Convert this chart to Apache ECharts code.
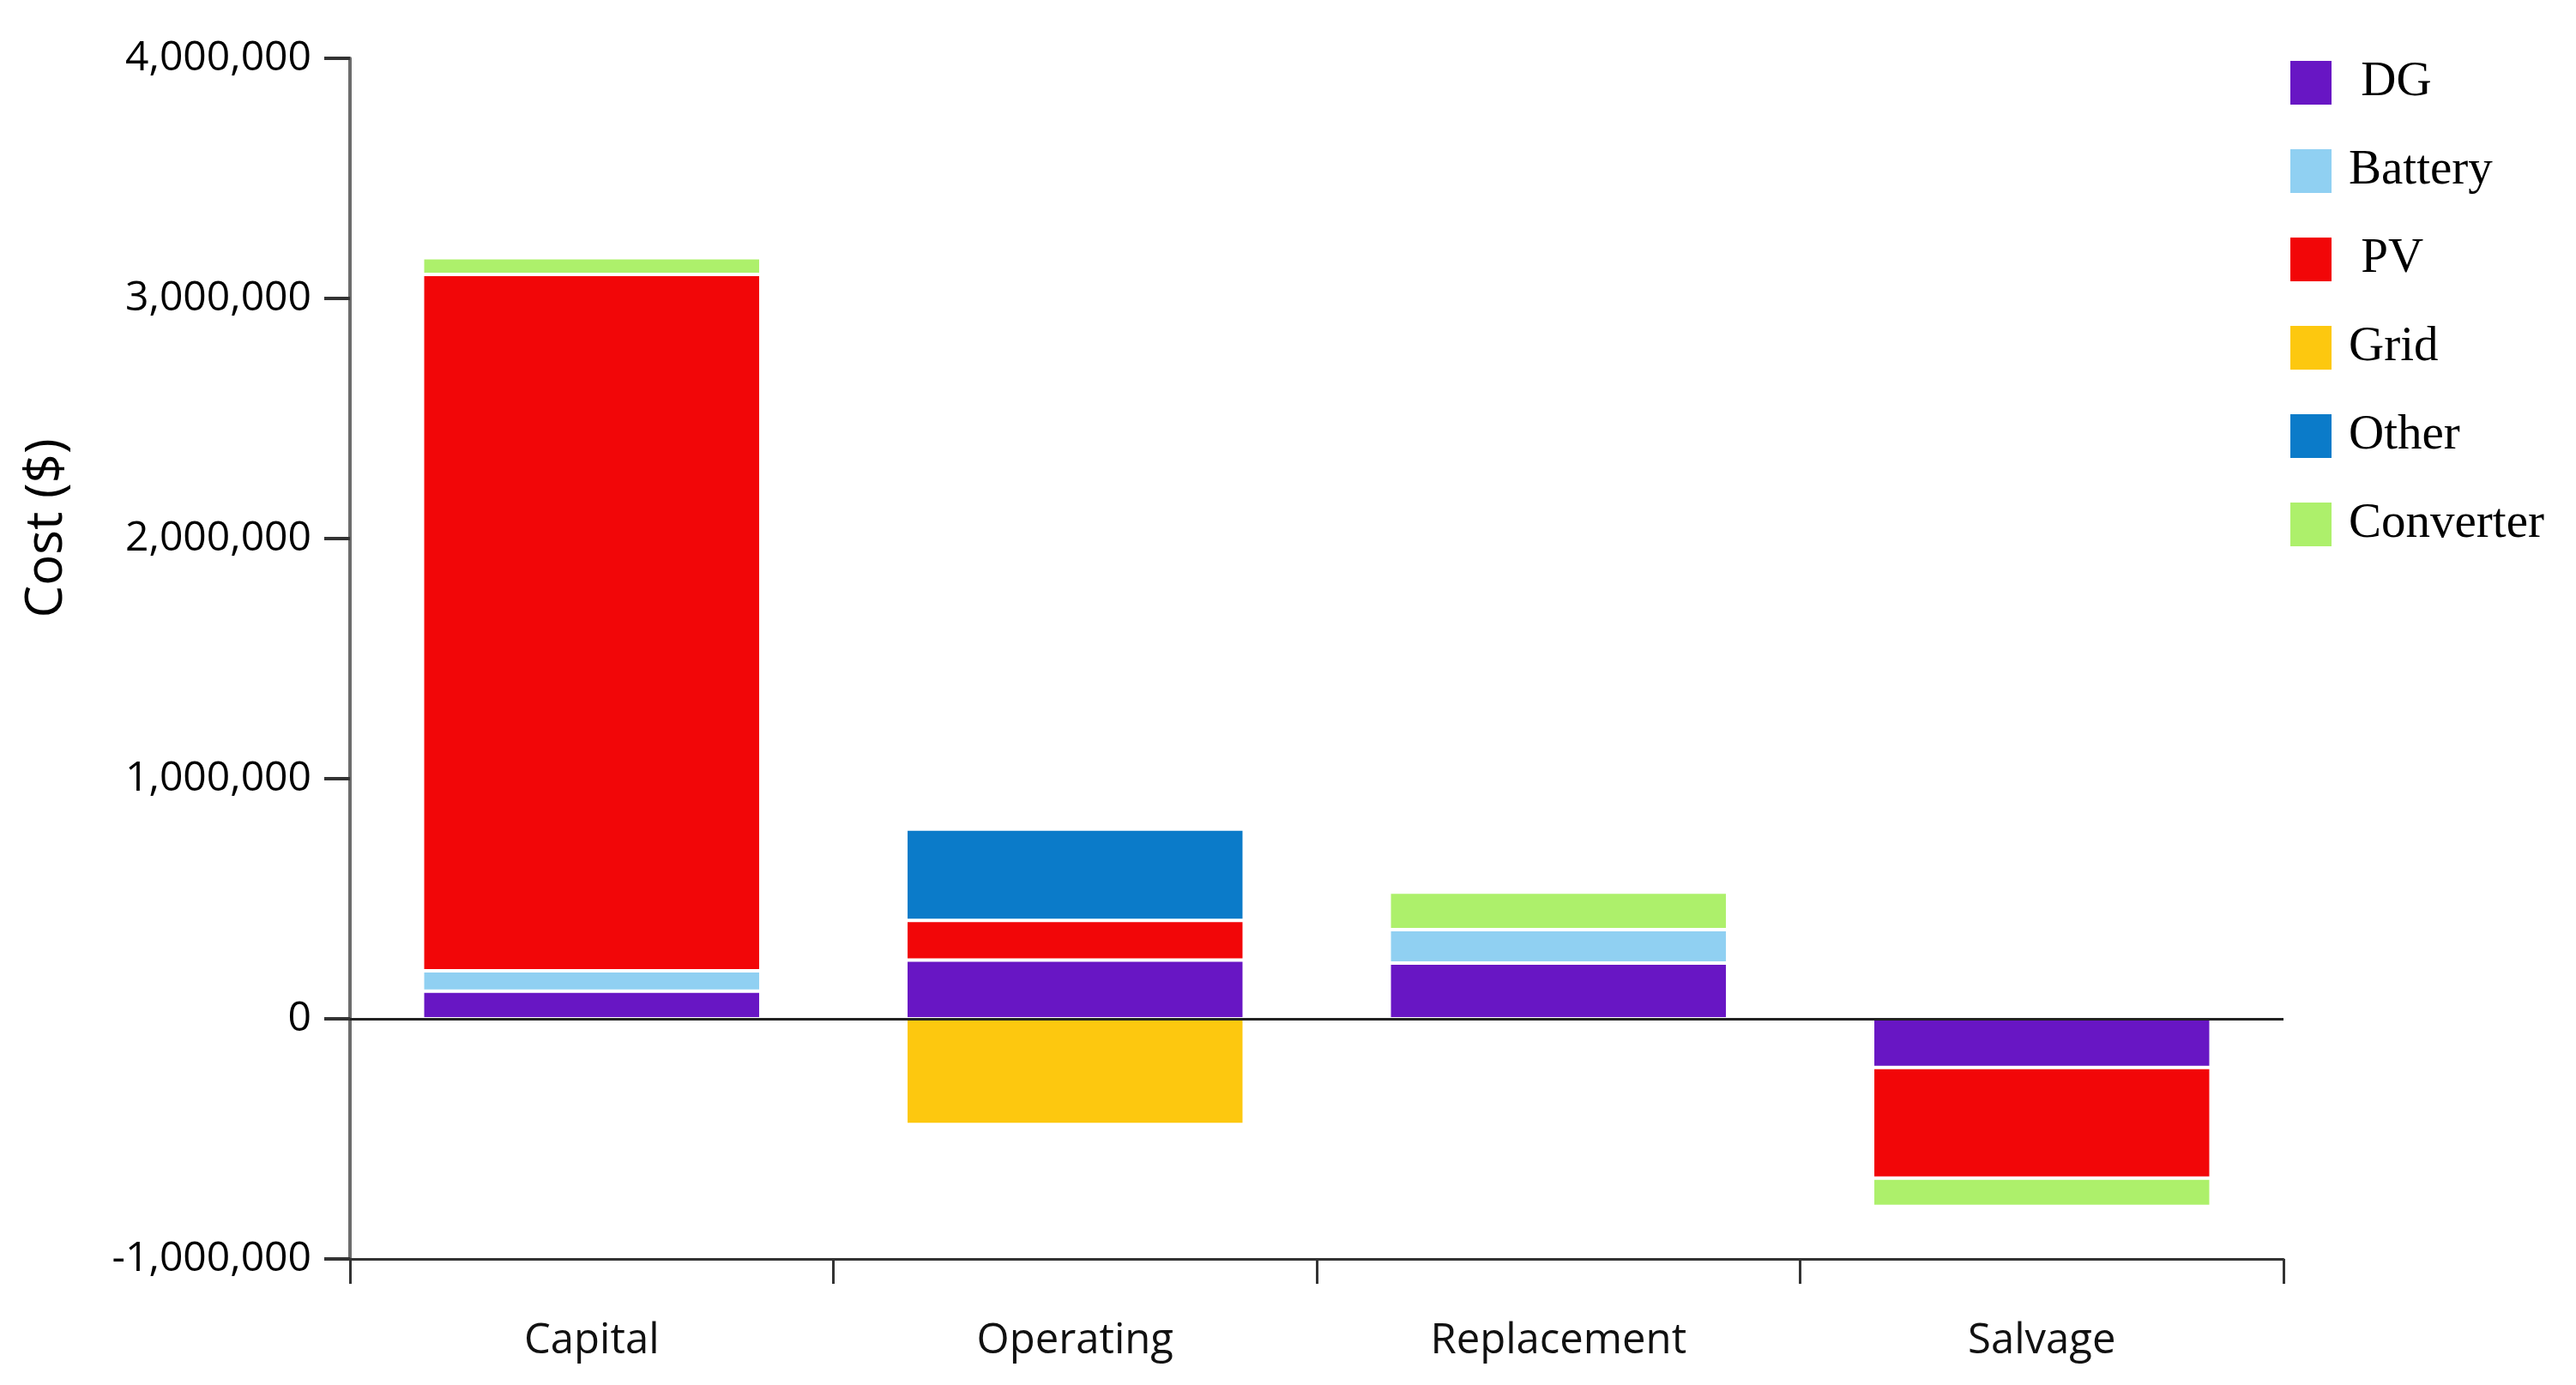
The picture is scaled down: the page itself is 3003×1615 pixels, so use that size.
<!DOCTYPE html>
<html>
<head>
<meta charset="utf-8">
<script src="https://cdn.jsdelivr.net/npm/echarts@6/dist/echarts.min.js"></script>
<style>
html,body{margin:0;padding:0;background:#fff;}
#chart{width:3003px;height:1615px;}
</style>
</head>
<body>
<div id="chart"></div>
<script>
var categories = ['Capital', 'Operating', 'Replacement', 'Salvage'];
var seriesNames = ['DG', 'Battery', 'PV', 'Grid', 'Other', 'Converter'];
var dgValues = [115000, 245000, 232000, -203000];
var batteryValues = [85000, null, 139000, null];
var pvValues = [2900000, 165000, null, -460000];
var gridValues = [null, -440000, null, null];
var otherValues = [null, 380000, null, null];
var converterValues = [70000, null, 157000, -118000];
var yTicks = [-1000000, 0, 1000000, 2000000, 3000000, 4000000];

var colors = ['#6816c4', '#90d0f2', '#f20608', '#fdc80f', '#0b7bc9', '#adf06b'];
var valueLists = [dgValues, batteryValues, pvValues, gridValues, otherValues, converterValues];

var series = seriesNames.map(function (name, i) {
  var s = {
    name: name,
    type: 'bar',
    stack: 'cost',
    barWidth: '70%',
    data: valueLists[i],
    itemStyle: { color: colors[i], borderColor: '#ffffff', borderWidth: 2 }
  };
  if (i === 0) {
    s.markLine = {
      silent: true,
      symbol: ['none', 'none'],
      label: { show: false },
      lineStyle: { color: '#222', width: 3, type: 'solid' },
      z: 10,
      data: [{ yAxis: 0 }]
    };
  }
  return s;
});

var chart = echarts.init(document.getElementById('chart'));
chart.setOption({
  backgroundColor: '#ffffff',
  animation: false,
  color: colors,
  grid: { left: 408, right: 341, top: 68, bottom: 147, containLabel: false },
  legend: {
    orient: 'vertical',
    left: 2668,
    top: 60,
    padding: 0,
    itemWidth: 50,
    itemHeight: 53,
    itemGap: 30,
    icon: 'rect',
    data: seriesNames,
    formatter: function (n) { return (n === 'DG' || n === 'PV') ? ' ' + n : n; },
    textStyle: {
      fontFamily: 'Liberation Serif',
      fontSize: 57,
      fontWeight: 'normal',
      color: '#000',
      lineHeight: 53,
      padding: [20, 0, 0, 14]
    }
  },
  graphic: [{
    type: 'text',
    x: 55,
    y: 616,
    rotation: Math.PI / 2,
    style: {
      text: 'Cost ($)',
      fontFamily: 'Open Sans',
      fontSize: 60,
      fill: '#000',
      align: 'center',
      verticalAlign: 'middle'
    }
  }],
  xAxis: {
    type: 'category',
    data: categories,
    axisLine: { show: true, onZero: false, lineStyle: { color: '#333', width: 3 } },
    axisTick: { show: true, length: 29, lineStyle: { color: '#333', width: 3 } },
    axisLabel: {
      fontFamily: 'Open Sans',
      fontSize: 49,
      color: '#111',
      margin: 72
    }
  },
  yAxis: {
    type: 'value',
    min: yTicks[0],
    max: yTicks[yTicks.length - 1],
    interval: 1000000,
    axisLine: { show: true, lineStyle: { color: '#6c6c6c', width: 4 } },
    axisTick: { show: true, length: 30, lineStyle: { color: '#333', width: 4 } },
    splitLine: { show: false },
    axisLabel: {
      fontFamily: 'Open Sans',
      fontSize: 48,
      color: '#000',
      margin: 45,
      formatter: function (v) { return v.toLocaleString('en-US'); }
    }
  },
  series: series
});
</script>
</body>
</html>
